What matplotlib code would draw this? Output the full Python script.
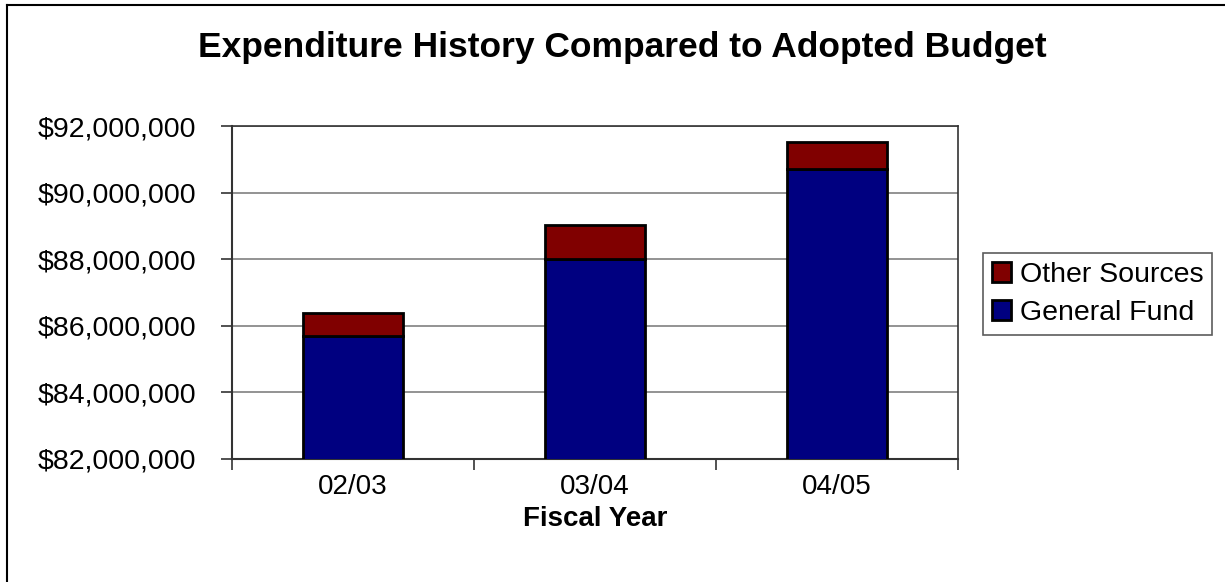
import matplotlib
matplotlib.use("Agg")
import matplotlib.pyplot as plt
from matplotlib.patches import Patch
from matplotlib.lines import Line2D
from matplotlib.ticker import FuncFormatter

plt.rcParams['font.family'] = ['Liberation Sans', 'DejaVu Sans']

# -------------------------------
# data
# -------------------------------

years = ["02/03", "03/04", "04/05"]
general_fund = [85690000, 88000000, 90710000]
other_sources = [680000, 1020000, 800000]

y_ticks = [82000000, 84000000, 86000000, 88000000, 90000000, 92000000]

NAVY = "#000080"
MAROON = "#800000"

# -------------------------------
# figure
# -------------------------------

fig = plt.figure(figsize=(12.25, 5.82), dpi=100)
ax = fig.add_axes([232 / 1225, 1 - 459 / 582, (958 - 232) / 1225, (459 - 126) / 582])

x = list(range(len(years)))
ax.bar(x, general_fund, width=0.41, color=NAVY, edgecolor="black", linewidth=2, zorder=3)
ax.bar(x, other_sources, width=0.41, bottom=general_fund, color=MAROON,
       edgecolor="black", linewidth=2, zorder=3)

ax.set_xlim(-0.5, len(years) - 0.5)
ax.set_ylim(y_ticks[0], y_ticks[-1])
ax.set_yticks(y_ticks)
ax.yaxis.set_major_formatter(FuncFormatter(lambda v, p: f"${v:,.0f}"))
ax.yaxis.grid(True, color="#808080", linewidth=1.2, zorder=0)

# category labels centred, tick marks between categories
ax.set_xticks(x)
ax.set_xticklabels(years, fontsize=20)
ax.tick_params(axis="x", which="major", length=0, pad=11)
ax.set_xticks([-0.5 + i for i in range(len(years) + 1)], minor=True)
ax.tick_params(axis="x", which="minor", length=8, width=1.2, direction="out", color="#333333")
ax.tick_params(axis="y", length=8, width=1.2, direction="out", color="#333333", labelsize=20.5, pad=18)
for lbl in ax.get_yticklabels():
    lbl.set_horizontalalignment("right")

for side in ["left", "bottom"]:
    ax.spines[side].set_color("#333333")
    ax.spines[side].set_linewidth(1.5)
for side in ["top", "right"]:
    ax.spines[side].set_color("#333333")
    ax.spines[side].set_linewidth(1.2)

ax.set_xlabel("Fiscal Year", fontsize=20, fontweight="bold", labelpad=4)

fig.text(0.508, 1 - 48 / 582, "Expenditure History Compared to Adopted Budget",
         ha="center", va="center", fontsize=25.5, fontweight="bold")

# legend
handles = [Patch(facecolor=MAROON, edgecolor="black", linewidth=2, label="Other Sources"),
           Patch(facecolor=NAVY, edgecolor="black", linewidth=2, label="General Fund")]
leg = fig.legend(handles=handles, loc="upper left",
                 bbox_to_anchor=(983 / 1225, 1 - 253 / 582),
                 fontsize=20.5, frameon=True, fancybox=False, borderaxespad=0,
                 handlelength=0.7, handleheight=0.7, handletextpad=0.3,
                 labelspacing=0.45, borderpad=0.3)
leg.get_frame().set_edgecolor("#333333")
leg.get_frame().set_linewidth(1.2)

# outer chart frame (top and left edges visible)
fig.add_artist(Line2D([7 / 1225, 1.0], [1 - 5 / 582, 1 - 5 / 582], transform=fig.transFigure,
                      color="black", linewidth=1.5))
fig.add_artist(Line2D([7 / 1225, 7 / 1225], [1 - 5 / 582, 0.0], transform=fig.transFigure,
                      color="black", linewidth=1.5))

fig.savefig("out.png", dpi=100)
